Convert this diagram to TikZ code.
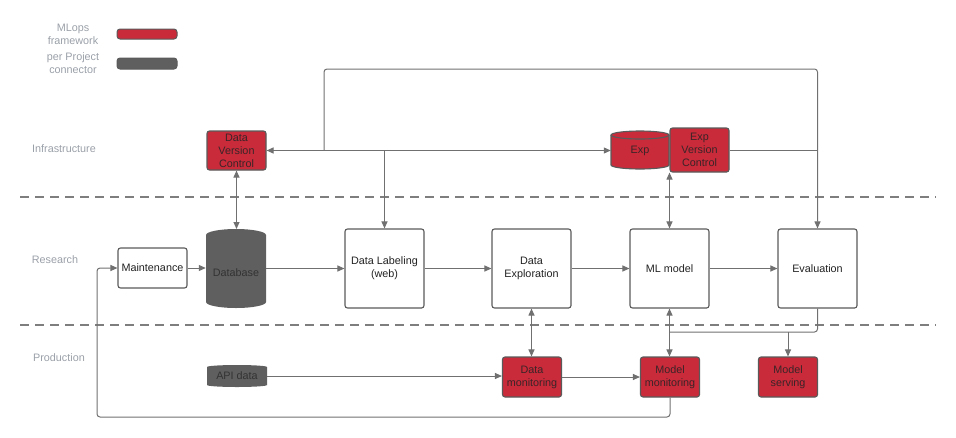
\documentclass[tikz,border=0pt]{standalone}
\usepackage{fontspec}
\setmainfont{Liberation Sans}
\usetikzlibrary{arrows.meta}
\definecolor{redfill}{HTML}{C92B3A}
\definecolor{bordergray}{HTML}{5A5A5A}
\definecolor{darkfill}{HTML}{5F5F5F}
\definecolor{linegray}{HTML}{707070}
\definecolor{labelgray}{HTML}{9AA0A8}
\definecolor{redtext}{HTML}{3A2428}
\definecolor{boxtext}{HTML}{222222}
\definecolor{darktext}{HTML}{333333}
\begin{document}
\begin{tikzpicture}[x=1pt,y=-1pt,
  txt/.style={font=\fontsize{10.8}{13}\selectfont, align=center},
  wbox/.style={txt, draw=bordergray, line width=1.1pt, rounded corners=2.5pt, fill=white, minimum width=79pt, minimum height=79pt, inner sep=1pt, text=boxtext},
  rbox/.style={txt, draw=bordergray, line width=1.1pt, rounded corners=2.5pt, fill=redfill, minimum width=59pt, minimum height=40pt, inner sep=1pt, text=redtext},
  ghost/.style={txt, inner sep=0pt},
  lane/.style={txt, text=labelgray},
  conn/.style={draw=linegray, line width=1pt, rounded corners=3pt},
  arr/.style={-{Triangle[length=7pt,width=6pt]}},
  darr/.style={{Triangle[length=7pt,width=6pt]}-{Triangle[length=7pt,width=6pt]}},
  sep/.style={draw=linegray!90, line width=1.3pt, dash pattern=on 9pt off 6pt}
]
\useasboundingbox (0,0) rectangle (956,437);

% legend
\node[lane] (legA) at (73,34.5) {MLops\\framework};
\node[lane] (legB) at (73,63.5) {per Project\\connector};
\node[draw=bordergray, fill=redfill, rounded corners=3pt, line width=1pt, minimum width=60pt, minimum height=10pt, inner sep=0pt] (barR) at (147,34) {};
\node[draw=bordergray, fill=darkfill, rounded corners=3pt, line width=1pt, minimum width=60pt, minimum height=11pt, inner sep=0pt] (barG) at (147,63.5) {};

% lane labels
\node[lane] (lInf) at (64,149) {Infrastructure};
\node[lane] (lRes) at (55,260) {Research};
\node[lane] (lPro) at (59,358) {Production};

% separators
\coordinate (s1a) at (20,197); \coordinate (s1b) at (936,197);
\coordinate (s2a) at (20,325); \coordinate (s2b) at (936,325);
\draw[sep] (s1a) -- (s1b);
\draw[sep] (s2a) -- (s2b);

% cylinder shapes
\fill[darkfill] (206,235) -- (206,302) arc[start angle=180,end angle=0,x radius=30,y radius=6] -- (266,235) arc[start angle=0,end angle=-180,x radius=30,y radius=6] -- cycle;
\filldraw[fill=redfill, draw=bordergray, line width=1.1pt] (611,135) -- (611,165) arc[start angle=180,end angle=0,x radius=29,y radius=4] -- (669,135) arc[start angle=0,end angle=-180,x radius=29,y radius=4] -- cycle;
\draw[bordergray, line width=1.1pt] (611,135) arc[start angle=180,end angle=0,x radius=29,y radius=4];
\fill[darkfill] (207,367) -- (207,385) arc[start angle=180,end angle=0,x radius=30,y radius=2] -- (267,367) arc[start angle=0,end angle=-180,x radius=30,y radius=2] -- cycle;

% nodes
\node[wbox, minimum width=69pt, minimum height=40pt] (maint) at (152.5,268) {Maintenance};
\node[ghost, minimum width=60pt, minimum height=79pt, text=darktext] (db) at (236,273) {Database};
\node[wbox] (label) at (384.5,268.5) {Data Labeling\\(web)};
\node[wbox] (explore) at (531.5,268.5) {Data\\Exploration};
\node[wbox] (ml) at (669.5,268.5) {ML model};
\node[wbox] (eval) at (817.5,268.5) {Evaluation};

\node[rbox, minimum height=39pt] (dvc) at (236.5,150.5) {Data\\Version\\Control};
\node[ghost, minimum width=58pt, minimum height=38pt, text=redtext] (expc) at (640,151) {Exp};
\node[rbox, minimum height=44pt] (expvc) at (699.5,150) {Exp\\Version\\Control};

\node[ghost, minimum width=60pt, minimum height=22pt, text=darktext] (api) at (237,376) {API data};
\node[rbox] (datamon) at (532,377) {Data\\monitoring};
\node[rbox] (modmon) at (670,377) {Model\\monitoring};
\node[rbox] (serve) at (788,377) {Model\\serving};

% research row connectors
\draw[conn,arr] (maint.east) -- (maint.east -| db.west);
\draw[conn,arr] (label.west -| db.east) -- (label.west);
\draw[conn,arr] (label.east) -- (explore.west);
\draw[conn,arr] (explore.east) -- (ml.west);
\draw[conn,arr] (ml.east) -- (eval.west);

% infrastructure connectors
\draw[conn,darr] (dvc.south) -- (dvc.south |- 0,229);
\draw[conn,darr] (dvc.east) -- (expc.west |- dvc.east);
\coordinate (jA) at (324,150);
\coordinate (jT) at (324,69);
\coordinate (jTR) at (817.5,69);
\draw[conn,arr] (jA) -- (jT) -- (jTR) -- (eval.north);
\draw[conn,arr] (label.north |- dvc.east) -- (label.north);
\draw[conn] (expvc.east) -- (eval.north |- expvc.east);
\draw[conn,darr] (ml.north) -- (ml.north |- expvc.south);

% production connectors
\draw[conn,darr] (explore.south) -- (explore.south |- datamon.north);
\draw[conn,darr] (ml.south) -- (ml.south |- modmon.north);
\coordinate (k) at (670,332);
\draw[conn] (eval.south) |- (k);
\draw[conn,arr] (serve.north |- k) -- (serve.north);
\draw[conn,arr] (api.east) -- (api.east -| datamon.west);
\draw[conn,arr] (datamon.east) -- (modmon.west);
\coordinate (b1) at (670,417);
\coordinate (b2) at (97,417);
\draw[conn,arr] (modmon.south) -- (b1) -- (b2) |- (maint.west);
\end{tikzpicture}
\end{document}
